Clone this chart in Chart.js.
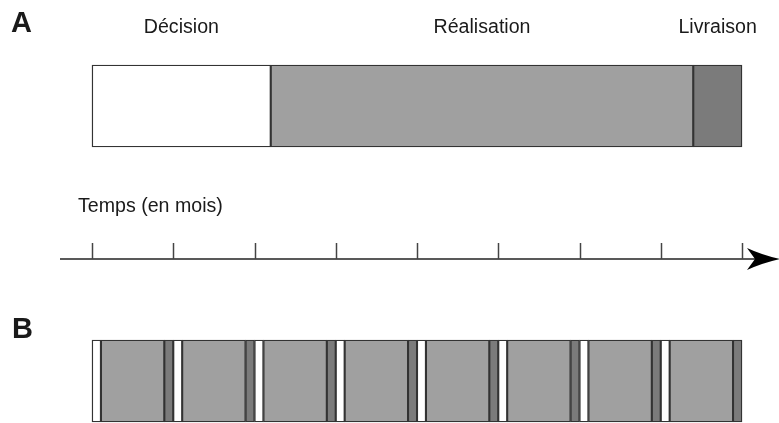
<!DOCTYPE html>
<html>
<head>
<meta charset="utf-8">
<script src="https://cdn.jsdelivr.net/npm/chart.js@4"></script>
<style>
  body { margin: 0; background: #fff; }
  .wrap { width: 779px; height: 423px; }
</style>
</head>
<body>
<div class="wrap"><canvas id="chart" width="779" height="423"></canvas></div>
<script>
const rows = ['A', 'B'];
const phases = ['Décision', 'Réalisation', 'Livraison'];
const monthTicks = [0, 1, 2, 3, 4, 5, 6, 7, 8];
const axisTitle = 'Temps (en mois)';

// A : un seul projet, durée de chaque phase en mois
const projectA = [2.2, 5.2, 0.6];

// B : huit itérations d'un mois (décision, réalisation, livraison)
const iterationsB = [
  [0.11, 0.78, 0.11],
  [0.11, 0.78, 0.11],
  [0.11, 0.78, 0.11],
  [0.11, 0.78, 0.11],
  [0.11, 0.78, 0.11],
  [0.11, 0.78, 0.11],
  [0.11, 0.78, 0.11],
  [0.11, 0.78, 0.11],
];

const phaseColors = ['#ffffff', '#a0a0a0', '#7b7b7b'];
const FONT = "'Liberation Sans', Arial, sans-serif";

const datasets = [];
iterationsB.forEach((iter, k) => {
  iter.forEach((val, p) => {
    datasets.push({
      label: phases[p] + ' ' + (k + 1),
      data: [k === 0 ? projectA[p] : null, val],
      backgroundColor: phaseColors[p],
      borderColor: '#333',
      borderWidth: 1.4,
      borderSkipped: false,
      barThickness: 82,
      clip: false,
    });
  });
});

const decorations = {
  id: 'decorations',
  afterDraw(chart) {
    const ctx = chart.ctx;
    const x = chart.scales.x;
    ctx.save();
    ctx.fillStyle = '#1a1a1a';
    ctx.textBaseline = 'alphabetic';

    // lettres des panneaux
    ctx.font = 'bold 29px ' + FONT;
    ctx.textAlign = 'left';
    ctx.fillText(rows[0], 11, 32);
    ctx.fillText(rows[1], 12, 338);

    // noms des phases au-dessus du projet A
    ctx.font = '19.6px ' + FONT;
    ctx.textAlign = 'center';
    let start = 0;
    projectA.forEach((d, i) => {
      const cx = (x.getPixelForValue(start) + x.getPixelForValue(start + d)) / 2;
      ctx.fillText(phases[i], cx, 33);
      start += d;
    });

    // axe du temps
    ctx.textAlign = 'left';
    ctx.fillText(axisTitle, 78, 212);
    const ay = 259;
    ctx.strokeStyle = '#222';
    ctx.lineWidth = 1.5;
    ctx.beginPath();
    ctx.moveTo(60, ay);
    ctx.lineTo(756, ay);
    ctx.stroke();
    ctx.strokeStyle = '#444';
    monthTicks.forEach(m => {
      const px = Math.round(x.getPixelForValue(m)) + 0.5;
      ctx.beginPath();
      ctx.moveTo(px, ay - 16);
      ctx.lineTo(px, ay);
      ctx.stroke();
    });
    ctx.fillStyle = '#000';
    ctx.beginPath();
    ctx.moveTo(780, ay);
    ctx.quadraticCurveTo(762, ay - 4, 747, ay - 11);
    ctx.lineTo(755, ay);
    ctx.lineTo(747, ay + 11);
    ctx.quadraticCurveTo(762, ay + 4, 780, ay);
    ctx.closePath();
    ctx.fill();
    ctx.restore();
  }
};

new Chart(document.getElementById('chart'), {
  type: 'bar',
  data: { labels: rows, datasets },
  options: {
    indexAxis: 'y',
    responsive: false,
    animation: false,
    layout: { padding: { left: 92, right: 37, top: 106, bottom: 42 } },
    plugins: { legend: { display: false }, tooltip: { enabled: false } },
    scales: {
      x: {
        type: 'linear',
        stacked: true,
        min: monthTicks[0],
        max: monthTicks[monthTicks.length - 1],
        display: false,
      },
      y: {
        stacked: true,
        offset: false,
        display: false,
      },
    },
  },
  plugins: [decorations],
});
</script>
</body>
</html>
